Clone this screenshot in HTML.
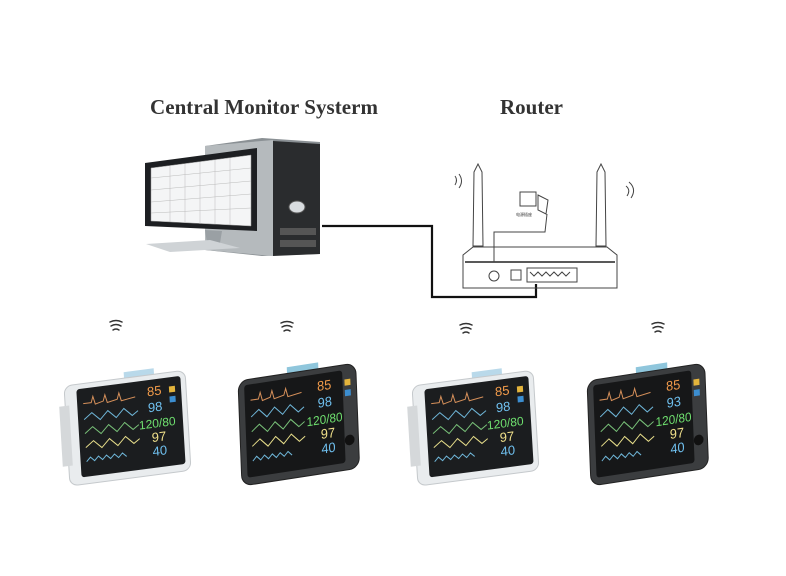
<!DOCTYPE html>
<html><head><meta charset="utf-8"><style>
html,body{margin:0;padding:0;background:#fff}
svg{display:block}
text{font-family:"Liberation Sans",sans-serif}
</style></head><body>
<svg width="786" height="576" viewBox="0 0 786 576" xmlns="http://www.w3.org/2000/svg">
<rect width="786" height="576" fill="#fff"/>
<text x="150" y="114" font-weight="bold" font-size="21" fill="#333" textLength="228" style="font-family:'Liberation Serif',serif">Central Monitor Systerm</text>
<text x="500" y="114" font-weight="bold" font-size="21" fill="#333" textLength="63" style="font-family:'Liberation Serif',serif">Router</text>

<!-- computer tower -->
<polygon points="205,146 262,138 320,142 320,254 262,256 205,250" fill="#8a9094"/>
<polygon points="273,141 320,144 320,254 273,256" fill="#2a2c2e"/>
<polygon points="205,146 273,140 273,256 205,250" fill="#b5babd"/>
<ellipse cx="297" cy="207" rx="8" ry="6" fill="#d8dcdf" stroke="#555"/>
<rect x="280" y="228" width="36" height="7" fill="#555"/><rect x="280" y="240" width="36" height="7" fill="#555"/>
<!-- computer monitor -->
<polygon points="145,163 257,148 257,231 145,226" fill="#1d1f22"/>
<polygon points="151,168 251,155 251,226 151,221" fill="#f4f5f6" stroke="#999" stroke-width="0.5"/>
<g stroke="#bbb" stroke-width="0.5">
<line x1="170" y1="166" x2="170" y2="222"/><line x1="185" y1="164" x2="185" y2="223"/><line x1="200" y1="162" x2="200" y2="224"/><line x1="215" y1="160" x2="215" y2="224"/><line x1="230" y1="158" x2="230" y2="225"/>
<line x1="151" y1="178" x2="251" y2="168"/><line x1="151" y1="190" x2="251" y2="181"/><line x1="151" y1="202" x2="251" y2="194"/><line x1="151" y1="213" x2="251" y2="208"/>
</g>
<polygon points="205,230 222,231 220,243 207,243" fill="#9aa0a4"/>
<polygon points="146,244 210,240 240,248 170,252" fill="#cfd3d6"/>

<!-- cable -->
<polyline points="322,226 432,226 432,297 536,297 536,284" fill="none" stroke="#111" stroke-width="2.2"/>

<!-- router -->
<g fill="none" stroke="#444" stroke-width="1">
<path d="M474,172 l4,-8 l4,8 l1,74 l-10,0 z"/>
<path d="M597,172 l4,-8 l4,8 l1,74 l-10,0 z"/>
<path d="M463,255 l10,-8 h134 l10,8 v33 h-154 z"/>
<line x1="465" y1="262" x2="615" y2="262" stroke-width="1.5" stroke="#222"/>
<circle cx="494" cy="276" r="5"/>
<rect x="511" y="270" width="10" height="10"/>
<rect x="527" y="268" width="50" height="14"/>
<path d="M530,272 l4,4 l4,-4 l4,4 l4,-4 l4,4 l4,-4 l4,4 l4,-4 l4,4 l4,-4"/>
<rect x="520" y="192" width="16" height="14"/>
<path d="M538,195 l10,5 l-2,14 l-8,-4z"/>
<polyline points="547,214 545,232 494,232 494,262"/>
<path d="M455,185 q3,-5 0,-9 M459,188 q5,-7 0,-14" />
<path d="M626,186 q5,4 1,10 M629,182 q8,7 2,16"/>
</g>
<text x="516" y="216" font-size="4" fill="#333">电源插座</text>

<!-- wifi icons -->
<g fill="none" stroke="#333" stroke-width="1.5" stroke-linecap="round">
<path d="M110,322 q6,-3 12,0 M111,326 q5,-3 10,0 M113,330 q3,-2 6,0"/>
<path d="M281,323 q6,-3 12,0 M282,327 q5,-3 10,0 M284,331 q3,-2 6,0"/>
<path d="M460,325 q6,-3 12,0 M461,329 q5,-3 10,0 M463,333 q3,-2 6,0"/>
<path d="M652,324 q6,-3 12,0 M653,328 q5,-3 10,0 M655,332 q3,-2 6,0"/>
</g>

<!-- monitor 1 white -->
<g transform="matrix(1,-0.13,0.06,1,64,386)">
<rect x="60" y="-6" width="30" height="6" fill="#b9d9ea"/>
<rect x="0" y="0" width="121" height="100" rx="8" fill="#e9ecee" stroke="#c5c9cc"/>
<rect x="-6" y="20" width="10" height="60" fill="#d5d8da"/>
<rect x="12" y="5" width="104" height="88" rx="3" fill="#1b1d1f"/>
<g fill="none" stroke-width="1">
<polyline points="18,20 26,20 28,14 30,22 38,20 40,14 42,22 52,20 54,14 56,22 70,20" stroke="#d6905a"/>
<polyline points="18,36 26,30 34,38 42,30 50,38 58,30 66,38 72,34" stroke="#6fb6d8"/>
<polyline points="18,50 26,44 34,52 42,44 50,52 58,44 66,52 72,48" stroke="#78c078"/>
<polyline points="18,64 26,58 34,66 42,58 50,66 58,58 66,66 72,62" stroke="#e6dd8a"/>
<polyline points="18,78 22,74 26,78 30,74 34,78 38,74 42,78 46,74 50,78 54,74 58,78" stroke="#6fb6d8"/>
</g>
<text x="82" y="21" font-size="13" fill="#f09a4a">85</text>
<text x="82" y="37" font-size="13" fill="#6fc0ef">98</text>
<text x="72" y="53" font-size="12" fill="#6fe06f">120/80</text>
<text x="84" y="67" font-size="13" fill="#f0e08a">97</text>
<text x="84" y="81" font-size="13" fill="#6fc0ef">40</text>
<rect x="104" y="14" width="6" height="6" fill="#e3b43c"/><rect x="104" y="24" width="6" height="6" fill="#3c8ed0"/>
</g>

<!-- monitor 2 dark -->
<g transform="matrix(0.98,-0.15,0.04,1.05,238,381)">
<rect x="50" y="-6" width="32" height="7" fill="#8fc6dc"/>
<rect x="0" y="0" width="120" height="100" rx="10" fill="#3b3d3f" stroke="#222"/>
<rect x="6" y="5" width="100" height="88" rx="3" fill="#161718"/>
<g fill="none" stroke-width="1">
<polyline points="12,20 20,20 22,14 24,22 32,20 34,14 36,22 46,20 48,14 50,22 64,20" stroke="#d6905a"/>
<polyline points="12,36 20,30 28,38 36,30 44,38 52,30 60,38 66,34" stroke="#6fb6d8"/>
<polyline points="12,50 20,44 28,52 36,44 44,52 52,44 60,52 66,48" stroke="#78c078"/>
<polyline points="12,64 20,58 28,66 36,58 44,66 52,58 60,66 66,62" stroke="#e6dd8a"/>
<polyline points="12,78 16,74 20,78 24,74 28,78 32,74 36,78 40,74 44,78 48,74 52,78" stroke="#6fb6d8"/>
</g>
<text x="80" y="21" font-size="13" fill="#f09a4a">85</text>
<text x="80" y="37" font-size="13" fill="#6fc0ef">98</text>
<text x="68" y="53" font-size="12" fill="#6fe06f">120/80</text>
<text x="82" y="67" font-size="13" fill="#f0e08a">97</text>
<text x="82" y="81" font-size="13" fill="#6fc0ef">40</text>
<rect x="108" y="14" width="6" height="6" fill="#e3b43c"/><rect x="108" y="24" width="6" height="6" fill="#3c8ed0"/>
<circle cx="111" cy="72" r="5" fill="#111"/>
</g>

<!-- monitor 3 white -->
<g transform="matrix(1,-0.13,0.06,1,412,386)">
<rect x="60" y="-6" width="30" height="6" fill="#b9d9ea"/>
<rect x="0" y="0" width="121" height="100" rx="8" fill="#e9ecee" stroke="#c5c9cc"/>
<rect x="-6" y="20" width="10" height="60" fill="#d5d8da"/>
<rect x="12" y="5" width="104" height="88" rx="3" fill="#1b1d1f"/>
<g fill="none" stroke-width="1">
<polyline points="18,20 26,20 28,14 30,22 38,20 40,14 42,22 52,20 54,14 56,22 70,20" stroke="#d6905a"/>
<polyline points="18,36 26,30 34,38 42,30 50,38 58,30 66,38 72,34" stroke="#6fb6d8"/>
<polyline points="18,50 26,44 34,52 42,44 50,52 58,44 66,52 72,48" stroke="#78c078"/>
<polyline points="18,64 26,58 34,66 42,58 50,66 58,58 66,66 72,62" stroke="#e6dd8a"/>
<polyline points="18,78 22,74 26,78 30,74 34,78 38,74 42,78 46,74 50,78 54,74 58,78" stroke="#6fb6d8"/>
</g>
<text x="82" y="21" font-size="13" fill="#f09a4a">85</text>
<text x="82" y="37" font-size="13" fill="#6fc0ef">98</text>
<text x="72" y="53" font-size="12" fill="#6fe06f">120/80</text>
<text x="84" y="67" font-size="13" fill="#f0e08a">97</text>
<text x="84" y="81" font-size="13" fill="#6fc0ef">40</text>
<rect x="104" y="14" width="6" height="6" fill="#e3b43c"/><rect x="104" y="24" width="6" height="6" fill="#3c8ed0"/>
</g>

<!-- monitor 4 dark -->
<g transform="matrix(0.98,-0.15,0.04,1.05,587,381)">
<rect x="50" y="-6" width="32" height="7" fill="#8fc6dc"/>
<rect x="0" y="0" width="120" height="100" rx="10" fill="#3b3d3f" stroke="#222"/>
<rect x="6" y="5" width="100" height="88" rx="3" fill="#161718"/>
<g fill="none" stroke-width="1">
<polyline points="12,20 20,20 22,14 24,22 32,20 34,14 36,22 46,20 48,14 50,22 64,20" stroke="#d6905a"/>
<polyline points="12,36 20,30 28,38 36,30 44,38 52,30 60,38 66,34" stroke="#6fb6d8"/>
<polyline points="12,50 20,44 28,52 36,44 44,52 52,44 60,52 66,48" stroke="#78c078"/>
<polyline points="12,64 20,58 28,66 36,58 44,66 52,58 60,66 66,62" stroke="#e6dd8a"/>
<polyline points="12,78 16,74 20,78 24,74 28,78 32,74 36,78 40,74 44,78 48,74 52,78" stroke="#6fb6d8"/>
</g>
<text x="80" y="21" font-size="13" fill="#f09a4a">85</text>
<text x="80" y="37" font-size="13" fill="#6fc0ef">93</text>
<text x="68" y="53" font-size="12" fill="#6fe06f">120/80</text>
<text x="82" y="67" font-size="13" fill="#f0e08a">97</text>
<text x="82" y="81" font-size="13" fill="#6fc0ef">40</text>
<rect x="108" y="14" width="6" height="6" fill="#e3b43c"/><rect x="108" y="24" width="6" height="6" fill="#3c8ed0"/>
<circle cx="111" cy="72" r="5" fill="#111"/>
</g>
</svg>
</body></html>
